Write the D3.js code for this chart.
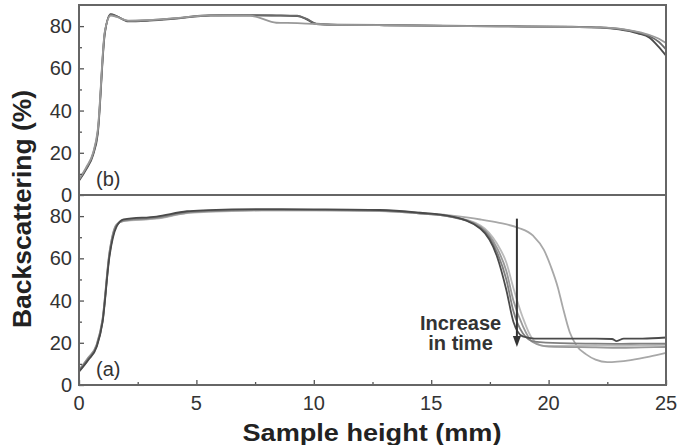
<!DOCTYPE html>
<html>
<head>
<meta charset="utf-8">
<script src="https://cdn.jsdelivr.net/npm/d3@7"></script>
<style>
  body { margin: 0; background: #fff; }
  svg { display: block; }
</style>
</head>
<body>
<div id="chart"></div>
<script>
// tick values
var xTicks = [0, 5, 10, 15, 20, 25];
var xMinor = [2.5, 7.5, 12.5, 17.5, 22.5];
var yTicks = [0, 20, 40, 60, 80];
var yMinor = [10, 30, 50, 70];

// panel (b): [height mm, backscattering %]
var b1 = [[0, 6.7], [0.3, 12], [0.6, 19], [0.8, 29], [1.1, 76.5], [1.35, 85.7], [1.6, 84.8], [2.1, 82.2], [3, 82.6], [4, 83.4], [5.6, 85], [7.3, 85.1], [8.4, 85], [9.3, 84.8], [9.7, 83.2], [10.1, 81], [11, 80.6], [13, 80.4], [16.6, 80], [19, 79.8], [21, 79.6], [22.2, 79.3], [23, 78.5], [23.8, 76.6], [24.3, 74.5], [24.7, 70], [25, 66]];
var b2 = [[0, 7.2], [0.3, 12.5], [0.6, 19.5], [0.8, 30], [1.1, 77], [1.35, 85.4], [1.6, 84.6], [2.1, 82.4], [3, 82.8], [4, 83.6], [5.6, 85.2], [7.3, 85.2], [8.4, 85.1], [9.3, 84.9], [9.7, 83.4], [10.1, 81.2], [11, 80.7], [13, 80.5], [16.6, 80.1], [19, 79.9], [21, 79.7], [22.2, 79.4], [23, 78.7], [23.8, 77], [24.3, 75.2], [24.7, 72.5], [25, 69]];
var b3 = [[0, 7.5], [0.3, 13], [0.6, 20], [0.8, 31], [1.1, 77.5], [1.35, 85], [1.6, 84.4], [2.1, 82.6], [3, 82.9], [4, 83.7], [5.6, 85.1], [7.3, 84.9], [7.6, 84.2], [8.4, 81.6], [9.3, 81.4], [9.7, 81.2], [10.1, 81], [11, 80.6], [13, 80.4], [16.6, 80], [19, 79.8], [21, 79.6], [22.2, 79.4], [23, 78.8], [23.8, 77.3], [24.3, 75.8], [24.7, 74], [25, 72]];

// panel (a): [height mm, backscattering %]
var a1 = [[0, 6.3], [0.4, 12], [0.75, 18], [1.0, 29.5], [1.3, 61], [1.6, 75], [1.9, 78.4], [3.3, 79.8], [4.6, 82.3], [5.5, 82.8], [7.8, 83.3], [10, 83.2], [12.8, 82.9], [14.5, 81.6], [15.8, 80], [17.1, 74], [17.8, 61], [18.2, 45], [18.5, 30], [18.9, 23], [19.4, 22], [20.5, 22], [22, 22], [22.7, 21.8], [22.9, 20.8], [23.2, 22], [24, 22], [25, 22.5]];
var a2 = [[0, 6.8], [0.4, 12.5], [0.75, 18.5], [1.0, 30], [1.3, 62], [1.6, 75.5], [1.9, 78], [3.3, 79.4], [4.6, 82], [5.5, 82.5], [7.8, 83], [10, 83], [12.8, 82.7], [14.5, 81.4], [15.8, 79.8], [17.1, 74.5], [17.8, 63], [18.2, 50], [18.5, 35], [18.9, 24.5], [19.4, 20.5], [20.5, 19.8], [22, 19.6], [23, 19.5], [24, 19.6], [25, 19.6]];
var a3 = [[0, 7], [0.4, 13], [0.75, 19], [1.0, 31], [1.3, 63], [1.6, 76], [1.9, 77.8], [3.3, 79], [4.6, 81.6], [5.5, 82.2], [7.8, 82.8], [10, 82.8], [12.8, 82.5], [14.5, 81.2], [15.8, 79.8], [17.1, 75], [17.8, 65], [18.2, 54], [18.5, 40], [18.9, 28], [19.3, 20.5], [20, 18.2], [22, 17.8], [23, 17.6], [24, 17.8], [25, 18]];
var a4 = [[0, 7.2], [0.4, 13], [0.75, 19], [1.0, 31], [1.3, 63], [1.6, 76], [1.9, 77.6], [3.3, 78.8], [4.6, 81.4], [5.5, 82], [7.8, 82.6], [10, 82.6], [12.8, 82.4], [14.5, 81.2], [15.8, 79.9], [17.1, 75.6], [17.8, 67], [18.2, 58], [18.5, 46], [18.9, 32], [19.3, 22], [19.8, 18.5], [21, 18.6], [22, 18.7], [23, 18.6], [24, 18.8], [25, 19]];
var a5 = [[0, 6.5], [0.4, 12], [0.75, 18.5], [1.0, 30], [1.3, 62], [1.6, 75.5], [1.9, 78], [3.3, 79.2], [4.6, 81.8], [5.5, 82.4], [7.8, 82.9], [10, 82.9], [12.8, 82.7], [14.5, 81.6], [15.8, 80.3], [17.1, 78.4], [17.9, 76.8], [18.7, 74.5], [19.35, 70.6], [19.8, 64], [20.1, 56], [20.4, 46], [20.6, 37], [20.9, 25], [21.2, 18.5], [21.6, 14.5], [22, 12], [22.5, 10.8], [23.5, 11.8], [24.3, 13.4], [25, 15.2]];

var seriesB = [b1, b2, b3];
var seriesA = [a5, a4, a3, a2, a1];
var colorsB = ["#4a4a4a", "#6a6a6a", "#999"];
var colorsA = ["#a8a8a8", "#bbb", "#999", "#808080", "#4a4a4a"];

// annotation (data units)
var arrowX = 18.65;
var arrowY = [78.8, 19];
var noteX = 16.25;
var noteLines = ["Increase", "in time"];
var noteY = [26.2, 16.6];

var W = 677, H = 445;
var left = 79, right = 666;

var svg = d3.select("#chart")
  .append("svg")
  .attr("width", W)
  .attr("height", H);

var x = d3.scaleLinear().domain([0, 25]).range([left, right]);
var yB = d3.scaleLinear().domain([0, 90]).range([195, 5]);
var yA = d3.scaleLinear().domain([0, 90]).range([385, 195]);

function drawPanel(y, series, colors, label, showX) {
    var g = svg.append("g");

    var line = d3.line()
      .x(function(d) { return x(d[0]); })
      .y(function(d) { return y(d[1]); })
      .curve(d3.curveMonotoneX);

    g.selectAll("path.curve")
      .data(series)
      .enter()
      .append("path")
      .attr("class", "curve")
      .attr("fill", "none")
      .attr("stroke", function(d, i) { return colors[i]; })
      .attr("stroke-width", 1.8)
      .attr("stroke-linejoin", "round")
      .attr("d", line);

    // y axis, ticks inward
    g.append("g")
      .attr("transform", "translate(" + left + ",0)")
      .call(d3.axisRight(y).tickValues(yTicks).tickSize(5).tickFormat(""))
      .call(function(a) { a.select(".domain").remove(); })
      .selectAll("line").attr("stroke", "#555").attr("stroke-width", 1.3);

    g.append("g")
      .attr("transform", "translate(" + left + ",0)")
      .call(d3.axisRight(y).tickValues(yMinor).tickSize(3).tickFormat(""))
      .call(function(a) { a.select(".domain").remove(); })
      .selectAll("line").attr("stroke", "#555").attr("stroke-width", 1.3);

    g.selectAll("text.ylab")
      .data(yTicks)
      .enter()
      .append("text")
      .attr("class", "ylab")
      .attr("x", left - 7)
      .attr("y", function(d) { return y(d) + 7; })
      .attr("text-anchor", "end")
      .attr("fill", "#333")
      .attr("font-family", "Liberation Sans, Arial, sans-serif")
      .style("font-size", "20px")
      .text(function(d) { return d; });

    if (showX) {
        g.append("g")
          .attr("transform", "translate(0," + y.range()[0] + ")")
          .call(d3.axisTop(x).tickValues(xTicks).tickSize(5).tickFormat(""))
          .call(function(a) { a.select(".domain").remove(); })
          .selectAll("line").attr("stroke", "#555").attr("stroke-width", 1.3);

        g.append("g")
          .attr("transform", "translate(0," + y.range()[0] + ")")
          .call(d3.axisTop(x).tickValues(xMinor).tickSize(3).tickFormat(""))
          .call(function(a) { a.select(".domain").remove(); })
          .selectAll("line").attr("stroke", "#555").attr("stroke-width", 1.3);

        g.selectAll("text.xlab")
          .data(xTicks)
          .enter()
          .append("text")
          .attr("class", "xlab")
          .attr("x", function(d) { return x(d); })
          .attr("y", y.range()[0] + 25)
          .attr("text-anchor", "middle")
          .attr("fill", "#333")
          .attr("font-family", "Liberation Sans, Arial, sans-serif")
          .style("font-size", "20px")
          .text(function(d) { return d; });
    }

    // frame
    g.append("rect")
      .attr("x", left)
      .attr("y", y.range()[1])
      .attr("width", right - left)
      .attr("height", y.range()[0] - y.range()[1])
      .attr("fill", "none")
      .attr("stroke", "#666")
      .attr("stroke-width", 2);

    g.append("text")
      .attr("x", left + 17)
      .attr("y", y.range()[0] - 9)
      .attr("fill", "#333")
      .attr("font-family", "Liberation Sans, Arial, sans-serif")
      .style("font-size", "20px")
      .text(label);

    return g;
}

drawPanel(yB, seriesB, colorsB, "(b)", false);
var gA = drawPanel(yA, seriesA, colorsA, "(a)", true);

// arrow
gA.append("line")
  .attr("x1", x(arrowX))
  .attr("x2", x(arrowX))
  .attr("y1", yA(arrowY[0]))
  .attr("y2", yA(arrowY[1]) - 6)
  .attr("stroke", "#333")
  .attr("stroke-width", 2);

gA.append("path")
  .attr("fill", "#333")
  .attr("d", "M " + (x(arrowX) - 4) + " " + (yA(arrowY[1]) - 9) +
             " L " + (x(arrowX) + 4) + " " + (yA(arrowY[1]) - 9) +
             " L " + x(arrowX) + " " + (yA(arrowY[1]) + 2) + " Z");

gA.selectAll("text.note")
  .data(noteLines)
  .enter()
  .append("text")
  .attr("class", "note")
  .attr("x", x(noteX))
  .attr("y", function(d, i) { return yA(noteY[i]); })
  .attr("text-anchor", "middle")
  .attr("fill", "#333")
  .attr("font-weight", "bold")
  .attr("font-family", "Liberation Sans, Arial, sans-serif")
  .style("font-size", "20px")
  .text(function(d) { return d; });

// axis titles
svg.append("text")
  .attr("transform", "translate(31,209) rotate(-90)")
  .attr("text-anchor", "middle")
  .attr("fill", "#222")
  .attr("font-weight", "bold")
  .attr("font-family", "Liberation Sans, Arial, sans-serif")
  .style("font-size", "25px")
  .attr("textLength", 238)
  .attr("lengthAdjust", "spacingAndGlyphs")
  .text("Backscattering (%)");

svg.append("text")
  .attr("x", 372)
  .attr("y", 441)
  .attr("text-anchor", "middle")
  .attr("fill", "#222")
  .attr("font-weight", "bold")
  .attr("font-family", "Liberation Sans, Arial, sans-serif")
  .style("font-size", "23px")
  .attr("textLength", 259)
  .attr("lengthAdjust", "spacingAndGlyphs")
  .text("Sample height (mm)");
</script>
</body>
</html>
